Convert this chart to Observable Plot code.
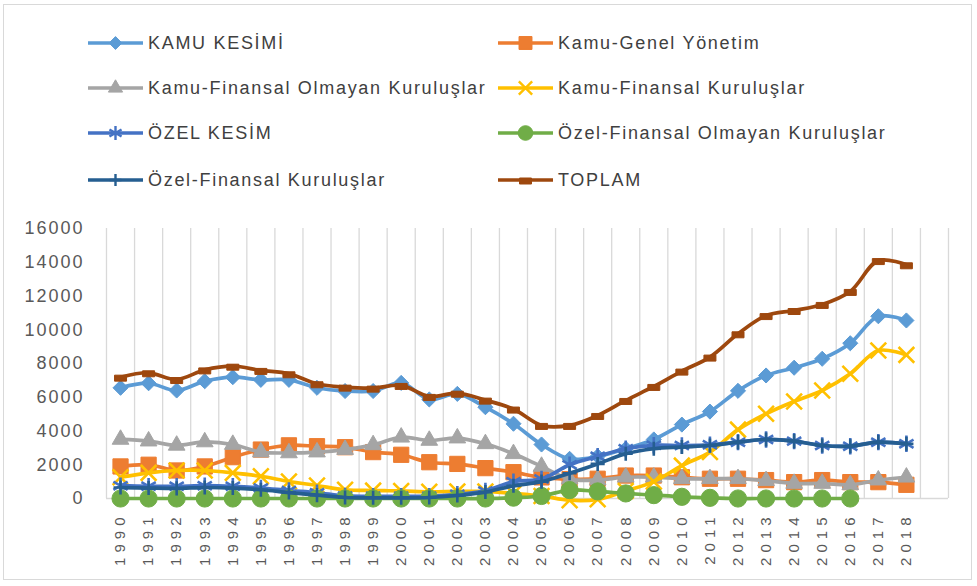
<!DOCTYPE html>
<html>
<head>
<meta charset="utf-8">
<script src="https://cdn.jsdelivr.net/npm/d3@7"></script>
<script src="https://cdn.jsdelivr.net/npm/@observablehq/plot@0.6"></script>
<style>
  html, body { margin: 0; padding: 0; background: #fff; }
  #frame { position: absolute; left: 3px; top: 4px; width: 969px; height: 576px; border: 1px solid #D9D9D9; box-sizing: border-box; }
  #legend { position: absolute; left: 0; top: 0; width: 977px; height: 210px; font-family: "Liberation Sans", Arial, sans-serif; }
  .item { position: absolute; height: 24px; display: flex; align-items: center; font-size: 18px; letter-spacing: 1.7px; color: #404040; white-space: nowrap; }
  .item svg { display: block; margin-right: 5px; }
  #chart { position: absolute; left: 0; top: 210px; }
  #chart g[aria-label="x-axis tick label"] text { font-size: 15px !important; letter-spacing: 5px; fill: #595959; }
  #chart g[aria-label="y-axis tick label"] text { font-size: 18px !important; letter-spacing: 2px; fill: #595959; }
</style>
</head>
<body>
<div id="frame"></div>
<div id="legend"></div>
<div id="chart"></div>
<script>
// ---- data ----
const years = [1990,1991,1992,1993,1994,1995,1996,1997,1998,1999,2000,2001,2002,2003,2004,2005,2006,2007,2008,2009,2010,2011,2012,2013,2014,2015,2016,2017,2018];
const blankCategory = 2019; // empty last category slot on the axis
const yTicks = [0,2000,4000,6000,8000,10000,12000,14000,16000];

const seriesNames = ["KAMU KESİMİ","Kamu-Genel Yönetim","Kamu-Finansal Olmayan Kuruluşlar","Kamu-Finansal Kuruluşlar","ÖZEL KESİM","Özel-Finansal Olmayan Kuruluşlar","Özel-Finansal Kuruluşlar","TOPLAM"];

const kamuKesimi     = [6560,6830,6400,6950,7190,7030,7030,6560,6370,6370,6850,5870,6200,5410,4430,3200,2350,2500,2950,3500,4380,5150,6380,7290,7750,8280,9200,10800,10550];
const kamuGenel      = [1900,2000,1660,1900,2450,2900,3150,3100,3040,2750,2590,2150,2050,1800,1560,1250,1150,1170,1360,1360,1260,1170,1170,1090,970,1090,970,970,810];
const kamuFinOlmayan = [3500,3400,3150,3350,3200,2750,2700,2750,2900,3180,3630,3440,3580,3240,2650,1900,1150,1100,1260,1260,1170,1170,1170,1050,890,890,810,1090,1260];
const kamuFinansal   = [1260,1520,1660,1660,1520,1320,1010,770,520,470,450,400,420,420,300,150,-100,-50,450,1000,1950,2750,4080,5020,5750,6400,7390,8770,8510];
const ozelKesim      = [760,720,720,760,720,620,470,340,150,130,130,140,250,450,1000,1150,2000,2500,2950,3150,3140,3180,3340,3500,3400,3140,3100,3340,3240];
const ozelFinOlmayan = [0,0,0,0,0,0,0,0,0,0,0,0,0,0,50,150,500,420,300,200,100,40,0,0,0,0,0,null,null];
const ozelFinansal   = [650,620,600,650,620,520,350,200,60,40,40,60,180,380,750,1000,1500,2050,2650,2950,3050,3140,3340,3500,3400,3140,3100,3340,3240];
const toplam         = [7190,7450,7050,7620,7840,7590,7390,6800,6600,6540,6700,6050,6240,5830,5300,4330,4330,4920,5810,6640,7550,8380,9760,10840,11140,11500,12270,14100,13850];

// ---- styling ----
const dashSymbol = { draw(ctx) { ctx.moveTo(-6, -2); ctx.lineTo(6, -2); ctx.lineTo(6, 4); ctx.lineTo(-6, 4); ctx.closePath(); } };
const styles = [
  { values: kamuKesimi,     color: "#5B9BD5", symbol: "diamond2", r: 6.8, filled: true,  sw: 1 },
  { values: kamuGenel,      color: "#ED7D31", symbol: "square",   r: 8.6, filled: true,  sw: 1 },
  { values: kamuFinOlmayan, color: "#A5A5A5", symbol: "triangle", r: 6.2, filled: true,  sw: 1 },
  { values: kamuFinansal,   color: "#FFC000", symbol: "times",    r: 7.2, filled: false, sw: 2.6 },
  { values: ozelKesim,      color: "#4472C4", symbol: "asterisk", r: 7.8, filled: false, sw: 2.6 },
  { values: ozelFinOlmayan, color: "#70AD47", symbol: "circle",   r: 8.6, filled: true,  sw: 1 },
  { values: ozelFinansal,   color: "#255E91", symbol: "plus",     r: 4.6, filled: false, sw: 2.6 },
  { values: toplam,         color: "#9E480E", symbol: dashSymbol, r: 4,   filled: true,  sw: 1 }
];

const marks = [];
// vertical gridlines at category boundaries (incl. empty last slot)
const cats = [...years, blankCategory];
marks.push(Plot.ruleX([...cats.map(c => c - 0.5), blankCategory + 0.5], { y1: 0, y2: 16000, stroke: "#D9D9D9", strokeWidth: 1.3 }));
marks.push(Plot.ruleY([0], { x1: 1989.5, x2: blankCategory + 0.5, stroke: "#D9D9D9", strokeWidth: 1.3 }));

styles.forEach((s, i) => {
  const rows = years.map((y, k) => ({ year: y, value: s.values[k], series: seriesNames[i] })).filter(d => d.value != null);
  marks.push(Plot.line(rows, { x: "year", y: "value", stroke: s.color, strokeWidth: 3.7, curve: "catmull-rom", strokeLinejoin: "round" }));
  if (s.filled) {
    marks.push(Plot.dot(rows, { x: "year", y: "value", symbol: () => s.symbol, r: s.r, fill: s.color, stroke: s.color, strokeWidth: s.sw }));
  } else {
    marks.push(Plot.dot(rows, { x: "year", y: "value", symbol: () => s.symbol, r: s.r, stroke: s.color, strokeWidth: s.sw }));
  }
});

const chart = Plot.plot({
  width: 977,
  height: 376,
  marginLeft: 106,
  marginRight: 29,
  marginTop: 18,
  marginBottom: 88,
  style: { fontFamily: "'Liberation Sans', Arial, sans-serif", background: "transparent", color: "#595959" },
  x: { type: "linear", domain: [1989.5, blankCategory + 0.5], ticks: years, tickFormat: d => String(d), tickRotate: -90, tickSize: 0, tickPadding: 14, label: null },
  y: { domain: [0, 16000], ticks: yTicks, tickFormat: d => String(d), tickSize: 0, tickPadding: 22, label: null },
  symbol: { type: "identity" },
  marks
});
document.getElementById("chart").appendChild(chart);

// ---- legend ----
const legend = document.getElementById("legend");
const rowsY = [43, 88, 133, 180];
const colsX = [88, 498];
const symMap = { diamond2: d3.symbolDiamond2, square: d3.symbolSquare, triangle: d3.symbolTriangle, times: d3.symbolTimes, asterisk: d3.symbolAsterisk, circle: d3.symbolCircle, plus: d3.symbolPlus };
styles.forEach((s, i) => {
  const row = Math.floor(i / 2), col = i % 2;
  const div = document.createElement("div");
  div.className = "item";
  div.style.left = colsX[col] + "px";
  div.style.top = (rowsY[row] - 12) + "px";
  const rr = s.r * 0.85;
  const sym = typeof s.symbol === "string" ? symMap[s.symbol] : s.symbol;
  const path = d3.symbol(sym, rr * rr * Math.PI)();
  const fill = s.filled ? s.color : "none";
  div.innerHTML = `<svg width="55" height="24"><line x1="0" x2="55" y1="12" y2="12" stroke="${s.color}" stroke-width="3.7"/>` +
    `<path d="${path}" transform="translate(27.5,12)" fill="${fill}" stroke="${s.color}" stroke-width="${s.filled ? 1 : 2.4}"/></svg>` +
    `<span>${seriesNames[i]}</span>`;
  legend.appendChild(div);
});
</script>
</body>
</html>
